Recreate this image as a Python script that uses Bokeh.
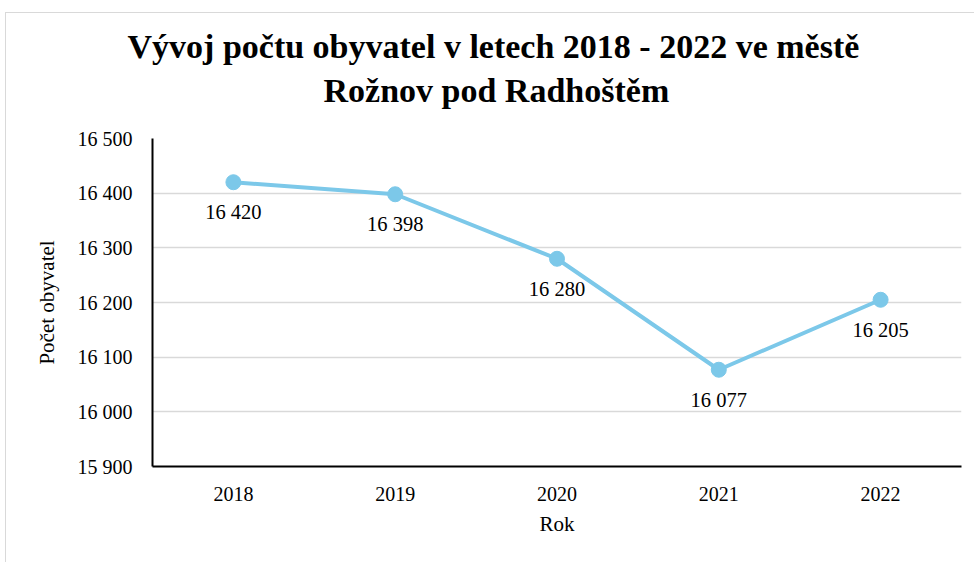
from bokeh.plotting import figure
from bokeh.models import ColumnDataSource, Range1d, FixedTicker, FactorRange, Title
from bokeh.embed import file_html
from bokeh.resources import INLINE
from bokeh.core.properties import value

years = ["2018", "2019", "2020", "2021", "2022"]
population = [16420, 16398, 16280, 16077, 16205]
labels = ["16 420", "16 398", "16 280", "16 077", "16 205"]
y_ticks = [15900, 16000, 16100, 16200, 16300, 16400, 16500]
y_tick_labels = ["15 900", "16 000", "16 100", "16 200", "16 300", "16 400", "16 500"]
title_lines = ["Vývoj počtu obyvatel v letech 2018 - 2022 ve městě", "Rožnov pod Radhoštěm"]

SERIF = "Liberation Serif"
LINE_COLOR = "#7cc8e9"

src = ColumnDataSource(dict(x=years, y=population, label=labels))

p = figure(width=969, height=550, x_range=FactorRange(*years),
           y_range=Range1d(15900, 16500), output_backend="svg",
           toolbar_location=None, min_border_left=146, min_border_right=14,
           min_border_top=10, min_border_bottom=97)
p.styles = {"margin-left": "5px", "margin-top": "12px",
            "border-top": "1px solid #d9d9d9", "border-left": "1px solid #d9d9d9"}
p.title = None

t2 = Title(text=title_lines[1], text_font=SERIF, text_font_size="34px",
           text_font_style="bold", align="left", offset=171,
           text_color="black", standoff=59)
t1 = Title(text=title_lines[0], text_font=SERIF, text_font_size="34px",
           text_font_style="bold", align="left", offset=-25,
           text_color="black", standoff=-48)
t0 = Title(text=" ", text_font=SERIF, text_font_size="2px", standoff=23)
p.add_layout(t2, "above")
p.add_layout(t1, "above")
p.add_layout(t0, "above")

p.outline_line_color = None
p.xgrid.grid_line_color = None
p.ygrid.grid_line_color = "#d9d9d9"
p.ygrid.grid_line_width = 1.5

p.yaxis.ticker = FixedTicker(ticks=y_ticks)
p.yaxis.major_label_overrides = {t: l for t, l in zip(y_ticks, y_tick_labels)}
for ax in (p.xaxis, p.yaxis):
    ax.axis_line_color = "black"
    ax.axis_line_width = 2
    ax.major_tick_line_color = None
    ax.minor_tick_line_color = None
    ax.major_label_text_font = SERIF
    ax.major_label_text_font_size = "20px"
    ax.major_label_text_color = "black"
    ax.axis_label_text_font = SERIF
    ax.axis_label_text_font_size = "21px"
    ax.axis_label_text_font_style = "normal"
    ax.axis_label_text_color = "black"

p.yaxis.axis_label = "Počet obyvatel"
p.xaxis.axis_label = "Rok"
p.yaxis.major_label_standoff = 14
p.yaxis.axis_label_standoff = 16
p.xaxis.major_label_standoff = 14
p.xaxis.axis_label_standoff = 8

p.line("x", "y", source=src, line_color=LINE_COLOR, line_width=4)
p.scatter("x", "y", source=src, size=15, fill_color=LINE_COLOR, line_color=LINE_COLOR)
p.text("x", "y", text="label", source=src, text_font=value(SERIF),
       text_font_size="20.5px", text_align="center", text_baseline="top",
       y_offset=19, text_color="black")

open("out.html", "w").write(file_html(p, INLINE))
